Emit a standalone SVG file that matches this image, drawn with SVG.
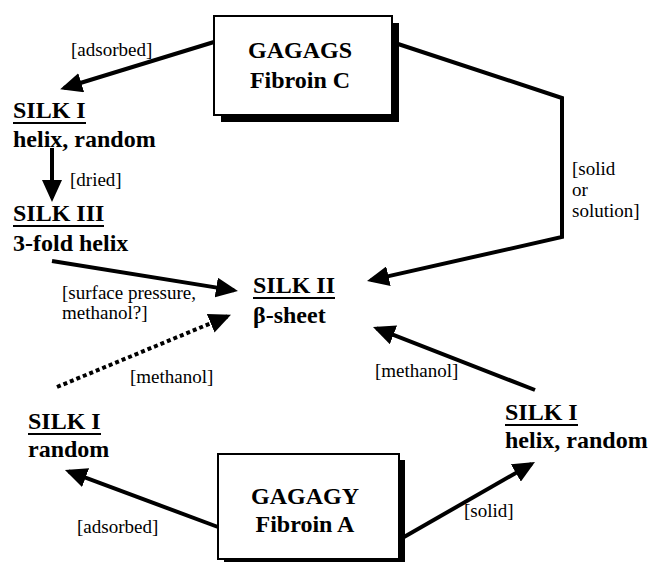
<svg xmlns="http://www.w3.org/2000/svg" width="648" height="562" viewBox="0 0 648 562">
<style>
.lbl{font-family:"Liberation Serif","Times New Roman",serif;font-size:19px;fill:#000}
.hd{font-family:"Liberation Serif","Times New Roman",serif;font-size:24px;font-weight:bold;fill:#000}
.ul{stroke:#000;stroke-width:2}
.box{fill:#fff;stroke:#000;stroke-width:2}
.shadow{fill:#000}
.conn{fill:none;stroke:#000;stroke-width:4;marker-end:url(#ah)}
.dot{stroke-dasharray:4 3}
</style>
<defs>
<marker id="ah" markerUnits="userSpaceOnUse" markerWidth="22" markerHeight="20" refX="18" refY="10" orient="auto">
<path d="M0,0 L22,10 L0,20 z" fill="#000"/>
</marker>
</defs>
<rect width="648" height="562" fill="#fff"/>
<g id="connectors">
<line class="conn" x1="214" y1="42" x2="64" y2="88"/>
<line class="conn" x1="52" y1="148" x2="52" y2="198"/>
<line class="conn" x1="52" y1="261" x2="234" y2="290.4"/>
<line class="conn dot" x1="57" y1="387" x2="227.3" y2="316.4"/>
<line class="conn" x1="535" y1="390" x2="376.7" y2="328.4"/>
<polyline class="conn" points="392,42 562,98 562,237 370.9,280.1"/>
<line class="conn" x1="218" y1="527" x2="68.7" y2="471.4"/>
<line class="conn" x1="404" y1="537" x2="531.5" y2="464"/>
</g>
<g id="labels">
<text class="lbl" x="71" y="56">[adsorbed]</text>
<text class="lbl" x="70" y="186">[dried]</text>
<text class="lbl" x="62" y="299">[surface pressure,</text>
<text class="lbl" x="62" y="319">methanol?]</text>
<text class="lbl" x="130" y="383">[methanol]</text>
<text class="lbl" x="375" y="377">[methanol]</text>
<text class="lbl" x="572" y="175">[solid</text>
<text class="lbl" x="572" y="196">or</text>
<text class="lbl" x="572" y="217">solution]</text>
<text class="lbl" x="77" y="533">[adsorbed]</text>
<text class="lbl" x="464" y="517">[solid]</text>
</g>
<g id="fibroinC">
<rect class="shadow" x="221" y="23" width="178" height="99"/>
<rect class="box" x="214" y="16" width="178" height="99"/>
<text class="hd" x="300" y="58" text-anchor="middle">GAGAGS</text>
<text class="hd" x="300" y="88" text-anchor="middle">Fibroin C</text>
</g>
<g id="fibroinA">
<rect class="shadow" x="224" y="460" width="181" height="105"/>
<rect class="box" x="218" y="454" width="181" height="105"/>
<text class="hd" x="305" y="504" text-anchor="middle">GAGAGY</text>
<text class="hd" x="305" y="532" text-anchor="middle">Fibroin A</text>
</g>
<g id="silkI_top">
<text class="hd" x="13" y="118">SILK I</text>
<line class="ul" x1="13" y1="123" x2="86" y2="123"/>
<text class="hd" x="13" y="147">helix, random</text>
</g>
<g id="silkIII">
<text class="hd" x="13" y="221">SILK III</text>
<line class="ul" x1="13" y1="226" x2="104" y2="226"/>
<text class="hd" x="13" y="251">3-fold helix</text>
</g>
<g id="silkII">
<text class="hd" x="253" y="293">SILK II</text>
<line class="ul" x1="253" y1="298" x2="335" y2="298"/>
<text class="hd" x="253" y="323">β-sheet</text>
</g>
<g id="silkI_random">
<text class="hd" x="28" y="429">SILK I</text>
<line class="ul" x1="28" y1="434" x2="101" y2="434"/>
<text class="hd" x="28" y="457">random</text>
</g>
<g id="silkI_helix">
<text class="hd" x="505" y="420">SILK I</text>
<line class="ul" x1="505" y1="425" x2="578" y2="425"/>
<text class="hd" x="505" y="448">helix, random</text>
</g>
</svg>
